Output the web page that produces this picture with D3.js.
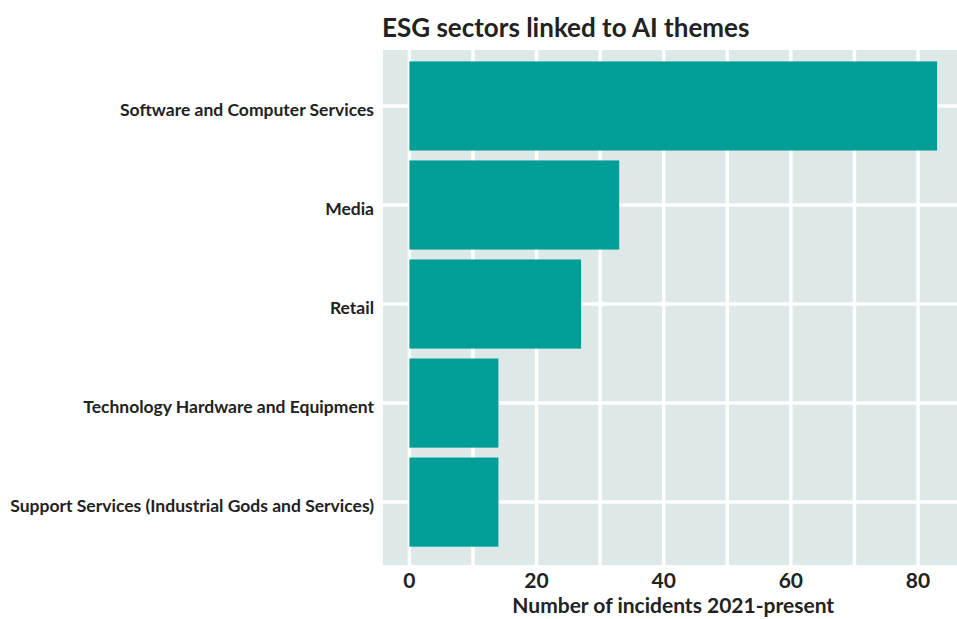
<!DOCTYPE html>
<html>
<head>
<meta charset="utf-8">
<script src="https://cdn.jsdelivr.net/npm/d3@7"></script>
<style>
  body { margin: 0; background: #fff; }
  text { font-family: Lato, "Open Sans", sans-serif; font-weight: bold; fill: #222; }
</style>
</head>
<body>
<div id="chart"></div>
<script>
// data
const sectors = [
    "Software and Computer Services",
    "Media",
    "Retail",
    "Technology Hardware and Equipment",
    "Support Services (Industrial Gods and Services)"
];
const incidents = [83, 33, 27, 14, 14];
const xTicks = [0, 20, 40, 60, 80];
const xMinor = [10, 30, 50, 70];

const width = 957, height = 619;
// panel box
const panel = { left: 383, top: 50, right: 963.5, bottom: 565 };

const svg = d3.select("#chart").append("svg")
    .attr("width", width)
    .attr("height", height);

// x: ggplot-ish 5% expansion around [0, max]
const xMax = d3.max(incidents);
const x = d3.scaleLinear()
    .domain([-0.05 * xMax, 1.05 * xMax])
    .range([panel.left, panel.right]);

// y: categories at 1..n, continuous so the padding matches
const y = d3.scaleLinear()
    .domain([0.435, sectors.length + 0.635])
    .range([panel.top, panel.bottom]);

const g = svg.append("g");

g.append("rect")
    .attr("x", panel.left)
    .attr("y", panel.top)
    .attr("width", panel.right - panel.left)
    .attr("height", panel.bottom - panel.top)
    .attr("fill", "#dde8e8");

// gridlines
g.selectAll("line.vgrid")
    .data(xTicks.concat(xMinor))
    .enter().append("line")
    .attr("class", "vgrid")
    .attr("x1", d => x(d)).attr("x2", d => x(d))
    .attr("y1", panel.top).attr("y2", panel.bottom)
    .attr("stroke", "#fff")
    .attr("stroke-width", 3.5);

g.selectAll("line.hgrid")
    .data(sectors)
    .enter().append("line")
    .attr("class", "hgrid")
    .attr("x1", panel.left).attr("x2", panel.right)
    .attr("y1", (d, i) => y(i + 1)).attr("y2", (d, i) => y(i + 1))
    .attr("stroke", "#fff")
    .attr("stroke-width", 3.5);

// bars
const bandH = (y(2) - y(1)) * 0.9;
g.selectAll("rect.bar")
    .data(incidents)
    .enter().append("rect")
    .attr("class", "bar")
    .attr("x", x(0))
    .attr("y", (d, i) => y(i + 1) - bandH / 2)
    .attr("width", d => x(d) - x(0))
    .attr("height", bandH)
    .attr("fill", "#009e96");

// x axis labels
svg.selectAll("text.xtick")
    .data(xTicks)
    .enter().append("text")
    .attr("class", "xtick")
    .attr("x", d => x(d))
    .attr("y", 588)
    .attr("text-anchor", "middle")
    .attr("font-size", 21)
    .text(d => d);

// y labels
svg.selectAll("text.ylab")
    .data(sectors)
    .enter().append("text")
    .attr("class", "ylab")
    .attr("x", 374)
    .attr("y", (d, i) => y(i + 1) + 4)
    .attr("dy", "0.35em")
    .attr("text-anchor", "end")
    .attr("font-size", 17.5)
    .text(d => d);

svg.append("text")
    .attr("x", (panel.left + panel.right) / 2)
    .attr("y", 613)
    .attr("text-anchor", "middle")
    .attr("font-size", 21)
    .text("Number of incidents 2021-present");

svg.append("text")
    .attr("x", 382)
    .attr("y", 37)
    .attr("font-size", 26)
    .text("ESG sectors linked to AI themes");
</script>
</body>
</html>
